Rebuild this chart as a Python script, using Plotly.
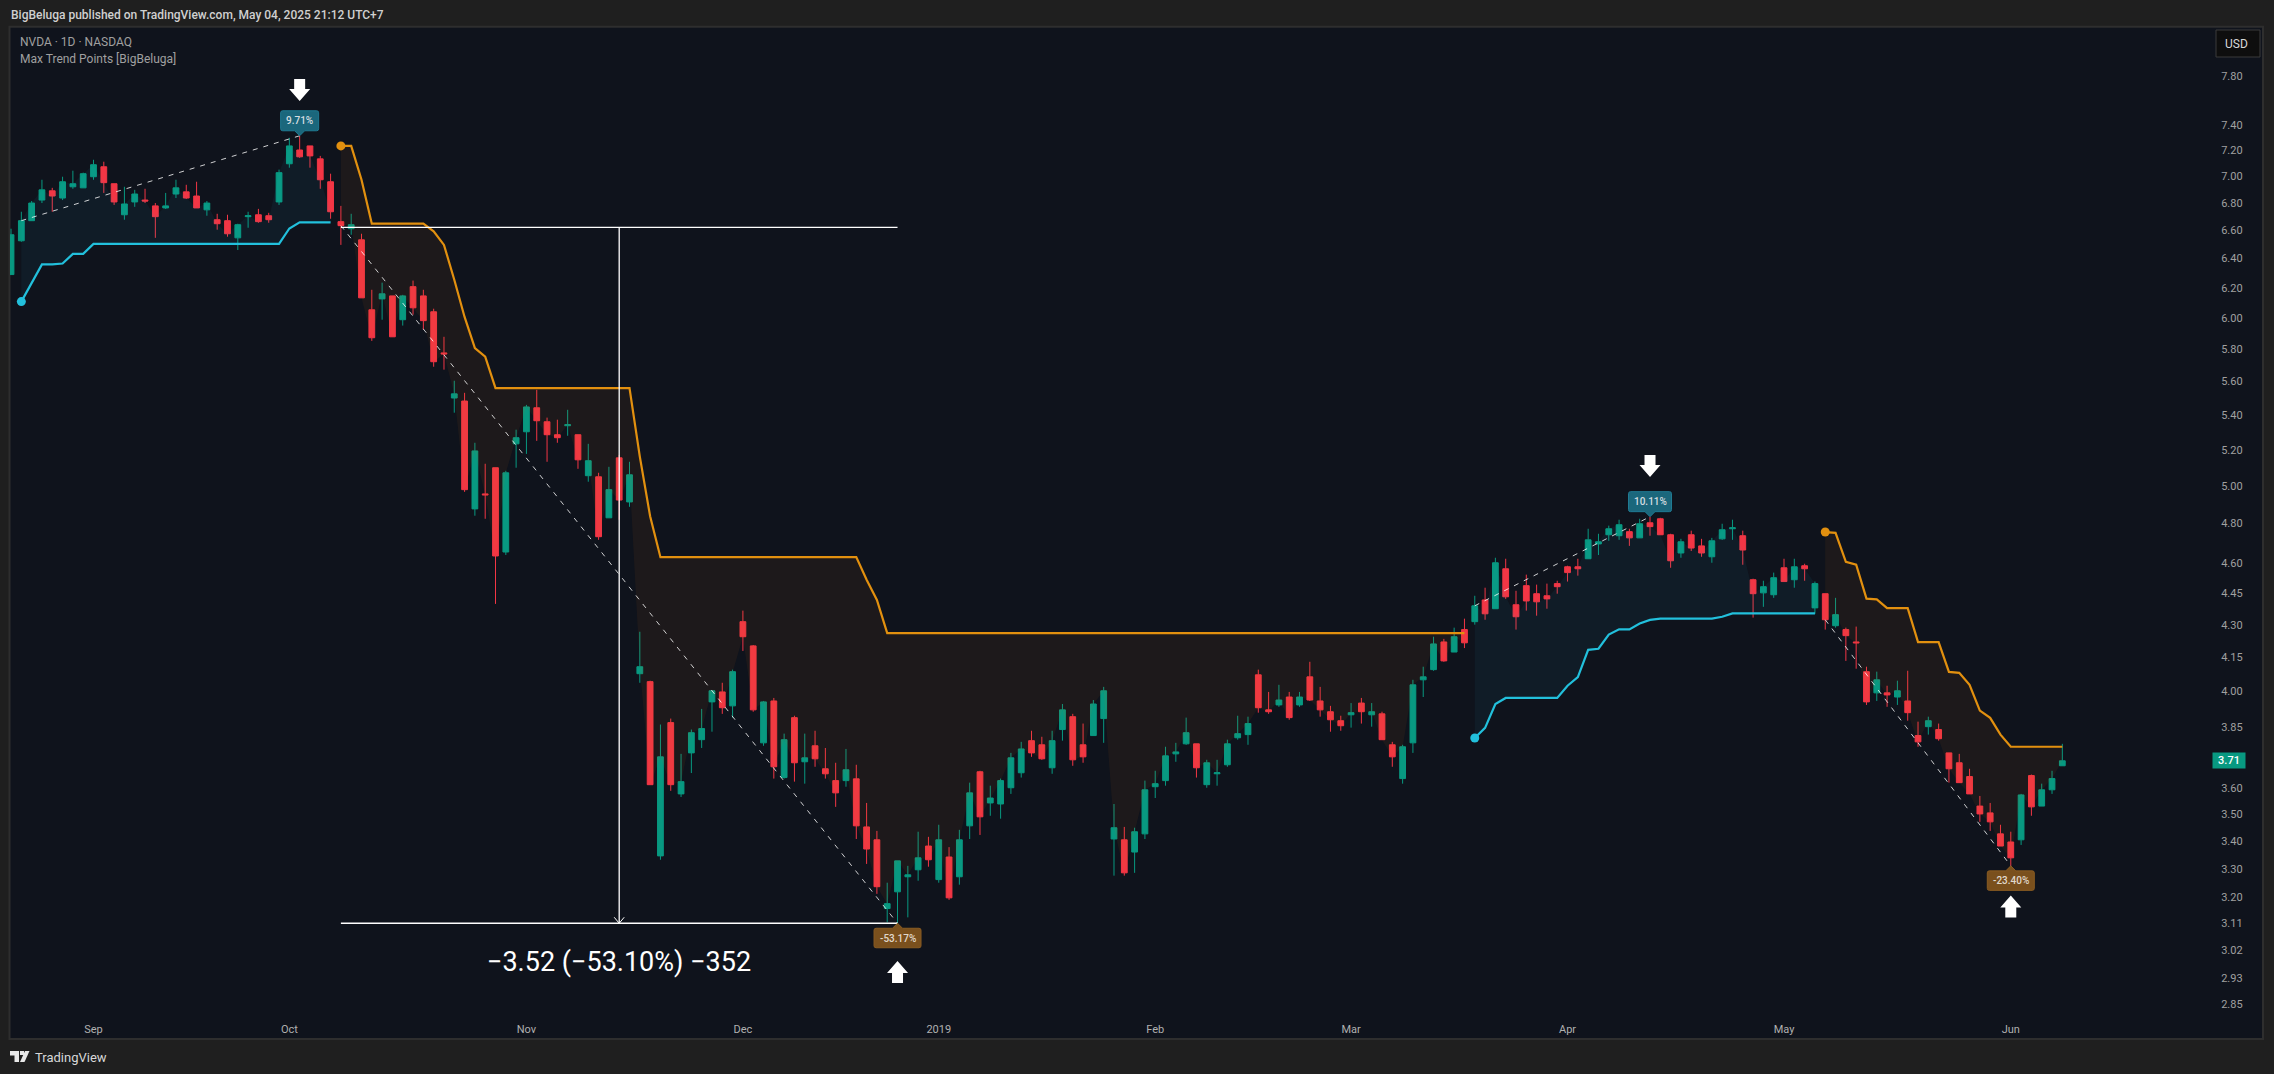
import math
import plotly.graph_objects as go

# daily candles, left to right
opens = [6.290,6.525,6.669,6.820,6.889,6.835,6.919,6.911,6.995,7.071,6.942,6.712,6.806,6.820,6.777,6.762,6.865,6.881,6.850,6.748,
         6.676,6.669,6.546,6.698,6.712,6.705,6.806,7.094,7.201,7.233,7.132,6.957,6.662,6.611,6.532,6.054,6.126,6.146,5.989,6.208,
         6.146,6.041,5.777,5.501,5.483,4.877,4.957,5.100,4.654,5.234,5.303,5.443,5.361,5.286,5.338,5.286,5.056,5.050,4.830,5.155,
         4.914,4.078,4.043,3.346,3.867,3.579,3.742,3.796,3.955,3.998,3.938,4.315,4.203,3.783,3.959,3.643,3.888,3.706,3.771,3.678,
         3.631,3.631,3.638,3.453,3.405,3.160,3.218,3.271,3.296,3.382,3.261,3.342,3.271,3.457,3.666,3.544,3.540,3.603,3.662,3.792,
         3.775,3.682,3.838,3.892,3.775,3.813,3.884,3.408,3.405,3.360,3.427,3.607,3.631,3.738,3.779,3.779,3.615,3.658,3.694,3.804,
         3.817,4.073,3.921,3.942,3.976,3.942,4.064,3.959,3.913,3.875,3.900,3.950,3.900,3.904,3.775,3.639,3.783,4.051,4.096,4.221,
         4.175,4.278,4.315,4.418,4.376,4.570,4.395,4.487,4.448,4.438,4.497,4.580,4.580,4.620,4.695,4.742,4.737,4.758,4.726,4.804,
         4.825,4.742,4.649,4.742,4.685,4.630,4.721,4.773,4.737,4.516,4.452,4.443,4.575,4.516,4.585,4.380,4.448,4.296,4.278,4.221,
         4.087,3.994,3.994,3.976,3.959,3.813,3.850,3.838,3.742,3.702,3.647,3.532,3.506,3.427,3.397,3.405,3.651,3.532,3.595,3.690]
highs = [6.611,6.734,6.813,6.972,6.911,6.995,7.041,7.026,7.125,7.110,6.942,6.919,6.896,6.904,6.798,6.873,6.972,6.934,6.957,6.813,
         6.719,6.712,6.647,6.734,6.755,6.726,7.049,7.297,7.313,7.233,7.155,7.018,6.777,6.719,6.575,6.187,6.235,6.146,6.153,6.249,
         6.187,6.061,5.879,5.605,5.532,5.240,5.122,5.100,5.083,5.315,5.460,5.550,5.385,5.373,5.431,5.286,5.234,5.072,5.105,5.171,
         5.133,4.268,4.047,3.859,3.884,3.738,3.838,3.925,4.003,4.038,4.096,4.367,4.207,3.959,3.972,3.821,3.896,3.821,3.833,3.762,
         3.702,3.758,3.694,3.544,3.438,3.250,3.328,3.310,3.435,3.416,3.461,3.378,3.442,3.623,3.670,3.611,3.639,3.742,3.787,3.833,
         3.808,3.833,3.946,3.904,3.863,3.963,4.020,3.540,3.453,3.450,3.631,3.670,3.767,3.783,3.888,3.779,3.714,3.714,3.796,3.896,
         3.892,4.096,3.998,4.029,3.998,3.998,4.131,4.020,3.938,3.896,3.950,3.972,3.950,3.913,3.787,3.775,4.051,4.109,4.245,4.235,
         4.287,4.329,4.438,4.477,4.625,4.620,4.462,4.541,4.492,4.497,4.511,4.585,4.620,4.773,4.747,4.789,4.820,4.773,4.825,4.836,
         4.830,4.747,4.721,4.763,4.721,4.726,4.799,4.820,4.763,4.521,4.511,4.551,4.620,4.620,4.595,4.507,4.448,4.428,4.287,4.292,
         4.109,4.087,4.025,4.047,4.091,3.871,3.892,3.863,3.742,3.738,3.678,3.571,3.544,3.461,3.435,3.579,3.655,3.619,3.670,3.779]
lows = [6.290,6.518,6.669,6.798,6.734,6.820,6.904,6.911,6.972,6.873,6.784,6.676,6.770,6.798,6.546,6.755,6.835,6.828,6.762,6.705,
        6.604,6.554,6.460,6.618,6.654,6.654,6.784,7.064,7.140,7.064,6.904,6.683,6.496,6.568,6.133,5.853,5.989,5.879,5.951,6.022,
        5.925,5.691,5.673,5.414,4.968,4.841,4.825,4.399,4.639,5.100,5.177,5.251,5.133,5.240,5.280,5.094,5.023,4.716,4.830,4.820,
        4.888,4.038,3.615,3.332,3.591,3.567,3.661,3.762,3.829,3.904,3.888,4.180,3.913,3.771,3.639,3.639,3.627,3.619,3.686,3.639,
        3.529,3.607,3.408,3.317,3.211,3.113,3.110,3.130,3.257,3.307,3.250,3.190,3.243,3.408,3.423,3.495,3.484,3.579,3.643,3.726,
        3.714,3.658,3.792,3.690,3.702,3.813,3.783,3.275,3.275,3.285,3.408,3.563,3.611,3.706,3.775,3.643,3.603,3.611,3.686,3.796,
        3.775,3.909,3.904,3.934,3.879,3.934,3.959,3.892,3.829,3.833,3.846,3.863,3.850,3.796,3.686,3.619,3.742,3.976,4.091,4.131,
        4.175,4.193,4.301,4.324,4.376,4.423,4.278,4.367,4.343,4.376,4.448,4.507,4.536,4.620,4.639,4.711,4.716,4.685,4.726,4.737,
        4.742,4.575,4.625,4.659,4.630,4.600,4.716,4.716,4.590,4.334,4.385,4.428,4.507,4.477,4.511,4.352,4.278,4.287,4.135,4.100,
        3.942,3.959,3.934,3.942,3.875,3.767,3.817,3.792,3.623,3.623,3.579,3.472,3.438,3.382,3.310,3.386,3.495,3.532,3.579,3.690]
closes = [6.568,6.669,6.798,6.896,6.850,6.957,6.942,7.018,7.087,6.950,6.806,6.791,6.865,6.813,6.698,6.777,6.911,6.835,6.762,6.798,
          6.647,6.575,6.640,6.705,6.662,6.676,7.026,7.233,7.148,7.155,6.972,6.734,6.633,6.640,6.133,5.873,6.160,5.879,6.146,6.067,
          5.983,5.722,5.771,5.526,4.980,5.194,4.952,4.634,5.072,5.269,5.448,5.367,5.286,5.269,5.344,5.144,5.139,4.732,4.980,4.924,
          5.061,4.109,3.615,3.726,3.615,3.627,3.825,3.842,4.003,3.930,4.087,4.245,3.921,3.955,3.686,3.796,3.702,3.722,3.718,3.658,
          3.583,3.674,3.457,3.371,3.236,3.177,3.328,3.278,3.339,3.332,3.405,3.197,3.405,3.583,3.491,3.563,3.631,3.722,3.758,3.742,
          3.718,3.792,3.921,3.714,3.726,3.946,4.003,3.450,3.285,3.435,3.595,3.619,3.730,3.746,3.825,3.682,3.702,3.662,3.779,3.821,
          3.863,3.930,3.913,3.963,3.888,3.976,3.963,3.921,3.879,3.854,3.909,3.913,3.913,3.796,3.726,3.767,4.029,4.064,4.212,4.135,
          4.245,4.217,4.390,4.352,4.600,4.433,4.338,4.413,4.409,4.423,4.482,4.551,4.570,4.716,4.706,4.773,4.794,4.726,4.799,4.784,
          4.742,4.610,4.706,4.674,4.649,4.711,4.768,4.778,4.664,4.448,4.482,4.526,4.507,4.580,4.570,4.497,4.324,4.348,4.250,4.217,
          3.955,4.051,3.985,4.003,3.909,3.787,3.875,3.800,3.678,3.623,3.579,3.502,3.472,3.382,3.339,3.575,3.529,3.595,3.639,3.710]
bar_index = list(range(len(closes)))

month_ticks = [8, 27, 50, 71, 90, 111, 130, 151, 172, 194]
month_labels = ["Sep", "Oct", "Nov", "Dec", "2019", "Feb", "Mar", "Apr", "May", "Jun"]
price_ticks = [7.80, 7.40, 7.20, 7.00, 6.80, 6.60, 6.40, 6.20, 6.00, 5.80, 5.60, 5.40, 5.20, 5.00, 4.80, 4.60,
               4.45, 4.30, 4.15, 4.00, 3.85, 3.60, 3.50, 3.40, 3.30, 3.20, 3.11, 3.02, 2.93, 2.85]
price_labels = ["%.2f" % p for p in price_ticks]

# Max Trend Points line, one list per trend leg, each with its first bar
bull_1_start = 1
bull_1 = [6.108,6.234,6.360,6.360,6.366,6.433,6.433,6.503,6.503,6.503,6.503,6.503,6.503,6.503,6.503,6.503,6.503,6.503,6.503,6.503,
          6.503,6.503,6.503,6.503,6.503,6.503,6.613,6.657,6.657,6.657,6.657]
bear_1_start = 32
bear_1 = [7.233,7.233,6.972,6.647,6.647,6.647,6.647,6.647,6.647,6.592,6.496,6.255,6.007,5.808,5.754,
          5.560,5.560,5.560,5.560,5.560,5.560,5.560,5.560,5.560,5.560,5.560,5.560,5.560,5.560,5.162,4.838,
          4.628,4.628,4.628,4.628,4.628,4.628,4.628,4.628,4.628,4.628,4.628,4.628,4.628,4.628,4.628,4.628,4.628,4.628,4.628,4.628,
          4.516,4.418,
          4.262,4.262,4.262,4.262,4.262,4.262,4.262,4.262,4.262,4.262,4.262,4.262,4.262,4.262,4.262,4.262,4.262,4.262,4.262,
          4.262,4.262,4.262,4.262,4.262,4.262,4.262,4.262,4.262,4.262,4.262,4.262,4.262,4.262,4.262,4.262,4.262,4.262,4.262,
          4.262,4.262,4.262,4.262,4.262,4.262,4.262,4.262,4.262,4.262,4.262,4.262,4.262,4.262,4.262,4.262,4.262,4.262,4.262]
bull_2_start = 142
bull_2 = [3.803,3.845,3.946,3.972,3.972,3.972,3.972,3.972,3.972,4.025,4.063,4.185,4.190,4.255,4.279,4.279,4.306,4.323,
          4.329,4.329,4.329,4.329,4.329,4.329,4.338,4.354,4.354,4.354,4.354,4.354,4.354,4.354,4.354,4.354]
bear_2_start = 176
bear_2 = [4.756,4.752,4.605,4.590,4.424,4.421,4.379,4.379,4.379,4.220,4.220,4.220,4.086,4.082,4.029,3.918,3.887,3.817,
          3.767,3.767,3.767,3.767,3.767,3.767]

# peak/trough labels: bar, text
peak_bars = [28, 159]
peak_texts = ["9.71%", "10.11%"]
trough_bars = [86, 194]
trough_texts = ["-53.17%", "-23.40%"]

# price range measure
measure_top = 6.62
measure_bottom = 3.11
measure_bar = 59
measure_from = 32
measure_to = 86
measure_text = "\u22123.52 (\u221253.10%) \u2212352"

UP = "#089981"
DOWN = "#f23645"
ORANGE = "#e2900f"
CYAN = "#22c0dc"
FRAME_BG = "#0f131c"
OUTER_BG = "#1f1f1f"

PLOT_L, PLOT_R, PLOT_T, PLOT_B = 10, 2212, 27, 1010


def paper_x(px):
    return (px - PLOT_L) / (PLOT_R - PLOT_L)


def paper_y(py):
    return (PLOT_B - py) / (PLOT_B - PLOT_T)


def tag_path(w, gap, h, above=True):
    # rounded label box with a small pointer, pixels around the anchor
    s = 1 if above else -1
    g, f, hw, r = s * gap, s * (gap + h), w / 2, 2
    return (f"M0,0 L5,{g} L{hw - r},{g} Q{hw},{g} {hw},{g + s * r} L{hw},{f - s * r} Q{hw},{f} {hw - r},{f} "
            f"L{-hw + r},{f} Q{-hw},{f} {-hw},{f - s * r} L{-hw},{g + s * r} Q{-hw},{g} {-hw + r},{g} L-5,{g} Z")


def arrow_path(s):
    # block arrow pointing down (s=1) or up (s=-1), pixels around the anchor
    return (f"M-5.5,{s * 11} L5.5,{s * 11} L5.5,{s * 1} L10.5,{s * 1} L0,{s * -11} L-10.5,{s * 1} L-5.5,{s * 1} Z")


fig = go.Figure()

fig.add_trace(go.Candlestick(
    x=bar_index, open=opens, high=highs, low=lows, close=closes,
    increasing=dict(fillcolor=UP, line=dict(color=UP, width=1)),
    decreasing=dict(fillcolor=DOWN, line=dict(color=DOWN, width=1)),
    whiskerwidth=0,
    hoverinfo="skip",
))

legs = [
    (bull_1_start, bull_1, CYAN, "rgba(34,195,220,0.06)"),
    (bear_1_start, bear_1, ORANGE, "rgba(230,120,10,0.07)"),
    (bull_2_start, bull_2, CYAN, "rgba(34,195,220,0.06)"),
    (bear_2_start, bear_2, ORANGE, "rgba(230,120,10,0.07)"),
]
for start, values, color, fill in legs:
    xs = bar_index[start:start + len(values)]
    fig.add_trace(go.Scatter(x=xs, y=closes[start:start + len(values)], mode="lines",
                             line=dict(width=0), hoverinfo="skip"))
    fig.add_trace(go.Scatter(x=xs, y=values, mode="lines", line=dict(color=color, width=2.2),
                             fill="tonexty", fillcolor=fill, hoverinfo="skip"))
    fig.add_trace(go.Scatter(x=xs[:1], y=values[:1], mode="markers",
                             marker=dict(color=color, size=9), hoverinfo="skip"))

# dashed swing lines, leg start close to the extreme of that leg
swings = [
    (bull_1_start, closes[bull_1_start], peak_bars[0], highs[peak_bars[0]]),
    (bear_1_start, closes[bear_1_start], trough_bars[0], lows[trough_bars[0]]),
    (bull_2_start, closes[bull_2_start], peak_bars[1], highs[peak_bars[1]]),
    (bear_2_start, closes[bear_2_start], trough_bars[1], lows[trough_bars[1]]),
]
for x0, y0, x1, y1 in swings:
    fig.add_trace(go.Scatter(x=[x0, x1], y=[y0, y1], mode="lines", hoverinfo="skip",
                             line=dict(color="rgba(255,255,255,0.8)", width=1, dash="5px,6px")))

# measure tool
for xs, ys in [([measure_from, measure_to], [measure_top, measure_top]),
               ([measure_from, measure_to], [measure_bottom, measure_bottom]),
               ([measure_bar, measure_bar], [measure_top, measure_bottom])]:
    fig.add_trace(go.Scatter(x=xs, y=ys, mode="lines", line=dict(color="#ffffff", width=1.3), hoverinfo="skip"))

shapes = [
    dict(type="rect", layer="below", xref="paper", yref="paper",
         x0=paper_x(9.5), x1=paper_x(2263), y0=paper_y(26.7), y1=paper_y(1039),
         fillcolor=FRAME_BG, line=dict(color="#2e2e2e", width=2)),
    dict(type="path", xref="x", yref="y", xsizemode="pixel", ysizemode="pixel",
         xanchor=measure_bar, yanchor=measure_bottom, path="M-5,6 L0,0 L5,6",
         line=dict(color="#ffffff", width=1)),
]
annotations = []

for bar, text in zip(peak_bars, peak_texts):
    w = 38 if len(text) < 6 else 43
    shapes.append(dict(type="path", xref="x", yref="y", xsizemode="pixel", ysizemode="pixel",
                       xanchor=bar, yanchor=highs[bar], path=tag_path(w, 5, 20, True),
                       fillcolor="#1b677c", line=dict(color="#1f7b93", width=1)))
    annotations.append(dict(x=bar, y=math.log10(highs[bar]), yshift=15, text=text, showarrow=False,
                            font=dict(family="Roboto", size=10, color="#d5dde0", weight=500)))
for bar, text in zip(trough_bars, trough_texts):
    shapes.append(dict(type="path", xref="x", yref="y", xsizemode="pixel", ysizemode="pixel",
                       xanchor=bar, yanchor=lows[bar], path=tag_path(47, 5, 19.5, False),
                       fillcolor="#7a501d", line=dict(color="#8a5c22", width=1)))
    annotations.append(dict(x=bar, y=math.log10(lows[bar]), yshift=-15, text=text, showarrow=False,
                            font=dict(family="Roboto", size=10, color="#e0d8cc", weight=500)))

# block arrows next to the labels
for bar, price, s in [(peak_bars[0], 7.685, 1), (peak_bars[1], 5.11, 1),
                      (trough_bars[0], 2.95, -1), (trough_bars[1], 3.167, -1)]:
    shapes.append(dict(type="path", xref="x", yref="y", xsizemode="pixel", ysizemode="pixel",
                       xanchor=bar, yanchor=price, path=arrow_path(s),
                       fillcolor="#ffffff", line=dict(width=0)))

annotations.append(dict(x=measure_bar, y=math.log10(2.983), text=measure_text, showarrow=False,
                        font=dict(family="Roboto", size=27, color="#ffffff")))

# last price tag
annotations.append(dict(xref="paper", x=paper_x(2229), y=math.log10(closes[-1]), text="%.2f" % closes[-1],
                        xanchor="center", yanchor="middle", showarrow=False, bgcolor=UP, width=32, height=15,
                        borderpad=0, font=dict(family="Roboto", size=11, color="#ffffff", weight=500)))

# header, legend, footer
for px, py, text, size, color, weight in [
    (9, 15, "BigBeluga published on TradingView.com, May 04, 2025 21:12 UTC+7", 12, "#d0d0d0", 500),
    (18, 42, "NVDA \u00b7 1D \u00b7 NASDAQ", 12, "#a0a0a0", 400),
    (18, 59, "Max Trend Points [BigBeluga]", 12, "#a0a0a0", 400),
    (33, 1057, "TradingView", 13, "#d8d8d8", 400),
]:
    annotations.append(dict(xref="paper", yref="paper", x=paper_x(px), y=paper_y(py), text=text, showarrow=False,
                            xanchor="left", yanchor="middle",
                            font=dict(family="Roboto", size=size, color=color, weight=weight)))

shapes.append(dict(type="rect", xref="paper", yref="paper", x0=paper_x(2216), x1=paper_x(2260),
                   y0=paper_y(30), y1=paper_y(57), fillcolor="#0e0e0e", line=dict(color="#3a3a3a", width=1)))
annotations.append(dict(xref="paper", yref="paper", x=paper_x(2236), y=paper_y(44), text="USD", showarrow=False,
                        xanchor="center", yanchor="middle", font=dict(family="Roboto", size=12, color="#d8d8d8")))

# TradingView logo
for path in ["M0,11 L9,11 L9,0 L4.5,0 L4.5,6.5 L0,6.5 Z", "M15,11 L19.5,11 L14.5,0 L10,0 Z", "M10,11 L14,11 L14,7 L10,7 Z"]:
    shapes.append(dict(type="path", xref="paper", yref="paper", xsizemode="pixel", ysizemode="pixel",
                       xanchor=paper_x(10), yanchor=paper_y(1062), path=path, fillcolor="#e8e8e8", line=dict(width=0)))

fig.update_layout(
    width=2274, height=1074,
    margin=dict(l=PLOT_L, r=2274 - PLOT_R, t=PLOT_T, b=1074 - PLOT_B),
    paper_bgcolor=OUTER_BG, plot_bgcolor="rgba(0,0,0,0)",
    showlegend=False, hovermode=False,
    boxgap=0.3, boxgroupgap=0.2,
    shapes=shapes, annotations=annotations,
    xaxis=dict(
        range=[-0.1, 213.52], rangeslider_visible=False, showgrid=False, zeroline=False, showline=False,
        tickmode="array", tickvals=month_ticks, ticktext=month_labels,
        ticks="outside", ticklen=9, tickcolor="rgba(0,0,0,0)",
        tickfont=dict(family="Roboto", size=11, color="#b0b0b0"),
    ),
    yaxis=dict(
        type="log", side="right", range=[0.45186, 0.91539], showgrid=False, zeroline=False, showline=False,
        tickmode="array", tickvals=price_ticks, ticktext=price_labels,
        ticks="outside", ticklen=6, tickcolor="rgba(0,0,0,0)",
        tickfont=dict(family="Roboto", size=11, color="#a0a0a0"),
    ),
)

fig.write_html("out.html", config={"displayModeBar": False},
               post_script="document.body.style.margin='0';document.body.style.background='#1f1f1f';")
